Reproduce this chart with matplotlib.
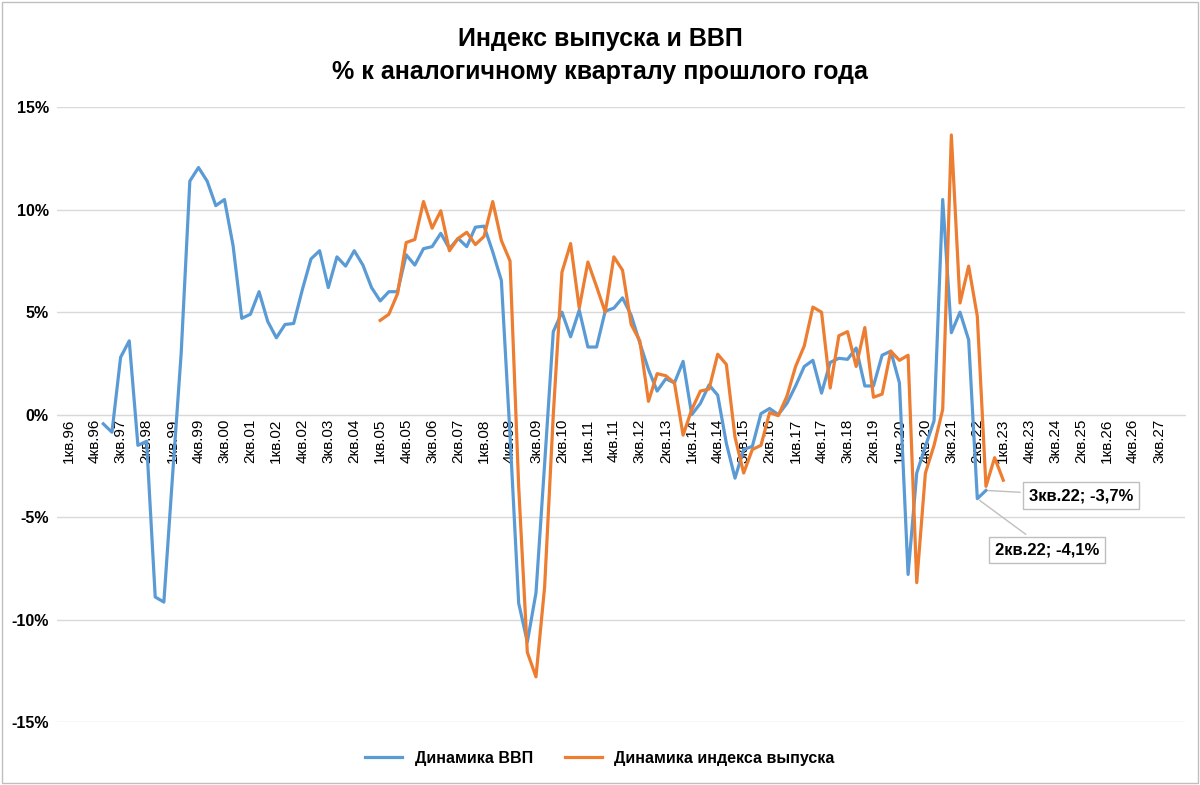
import matplotlib
matplotlib.use("Agg")
import matplotlib.pyplot as plt
import numpy as np

plt.rcParams["font.family"] = "Liberation Sans"

years = list(range(1996, 2028))
quarters = [f"{q}кв.{y % 100:02d}" for y in years for q in range(1, 5)]
tick_labels = quarters[::3]

gdp_start = 4  # 1кв.97
gdp = [-0.45, -0.86, 2.8, 3.6, -1.5, -1.3, -8.9, -9.15, -3.0, 3.0, 11.4, 12.06,
       11.4, 10.2, 10.5, 8.24, 4.7, 4.9, 6.0, 4.55, 3.75, 4.4, 4.45, 6.1,
       7.6, 8.0, 6.2, 7.7, 7.25, 8.0, 7.3, 6.2, 5.55, 6.0, 6.0, 7.8,
       7.3, 8.1, 8.2, 8.85, 8.1, 8.6, 8.2, 9.15, 9.2, 7.95, 6.55, -1.0,
       -9.2, -11.1, -8.7, -2.4, 4.05, 5.0, 3.8, 5.1, 3.3, 3.3, 5.05, 5.2,
       5.7, 4.85, 3.5, 2.2, 1.15, 1.75, 1.55, 2.6, 0.0, 0.55, 1.45, 0.95,
       -1.4, -3.1, -1.7, -1.55, 0.05, 0.3, 0.0, 0.55, 1.4, 2.35, 2.65, 1.05,
       2.55, 2.75, 2.7, 3.25, 1.4, 1.4, 2.9, 3.1, 1.55, -7.8, -2.85, -1.55,
       -0.3, 10.5, 4.0, 5.0, 3.65, -4.1, -3.7]

out_start = 36  # 1кв.05
output = [4.6, 4.9, 5.9, 8.4, 8.55, 10.4, 9.1, 9.95, 8.0, 8.6, 8.9, 8.3,
          8.7, 10.4, 8.5, 7.5, -3.5, -11.6, -12.8, -8.4, 0.0, 6.95, 8.35, 5.2,
          7.45, 6.25, 5.0, 7.7, 7.05, 4.4, 3.6, 0.65, 2.0, 1.9, 1.55, -1.0,
          0.25, 1.15, 1.25, 2.95, 2.45, -1.1, -2.85, -1.7, -1.5, 0.1, -0.05, 0.9,
          2.35, 3.35, 5.25, 5.0, 1.3, 3.85, 4.05, 2.35, 4.25, 0.85, 1.0, 3.1,
          2.65, 2.9, -8.2, -2.85, -1.5, 0.25, 13.65, 5.45, 7.25, 4.8, -3.5, -2.1,
          -3.2]

# fill in a few mid values in output that were read from blue-near areas
blue = "#5B9BD5"
orange = "#ED7D31"

fig = plt.figure(figsize=(12, 7.85), dpi=100)
ax = fig.add_axes([0.0475, 0.0803, 0.94, 0.783])

xg = np.arange(gdp_start, gdp_start + len(gdp))
xo = np.arange(out_start, out_start + len(output))
ax.plot(xg, gdp, color=blue, lw=2.3, label="Динамика ВВП", zorder=3, solid_joinstyle="round")
ax.plot(xo, output, color=orange, lw=2.3, label="Динамика индекса выпуска", zorder=4, solid_joinstyle="round")

ax.set_ylim(-15, 15)
ax.set_xlim(-1.35, 129)
ax.set_yticks([-15, -10, -5, 0, 5, 10, 15])
ax.set_yticklabels([f"{v}%" for v in [-15, -10, -5, 0, 5, 10, 15]], fontsize=11.5, fontweight="bold")
ax.yaxis.grid(True, color="#d9d9d9", lw=1)
ax.set_axisbelow(True)
for s in ["left", "right", "top"]:
    ax.spines[s].set_visible(False)
ax.spines["bottom"].set_position(("data", 0))
ax.spines["bottom"].set_color("#d9d9d9")
ax.tick_params(axis="y", length=0, pad=6)
ax.set_xticks(np.arange(0, len(quarters), 3))
ax.set_xticklabels(tick_labels, rotation=90, fontsize=11)
ax.tick_params(axis="x", length=0, pad=3)

# annotations
i3 = gdp_start + len(gdp) - 1
i2 = i3 - 1
bbox = dict(boxstyle="square,pad=0.35", fc="white", ec="#bfbfbf", lw=1)
ax.annotate("3кв.22; -3,7%", xy=(i3, gdp[-1]), xytext=(i3 + 5, -3.95), fontsize=12,
            fontweight="bold", bbox=bbox, ha="left", va="center",
            arrowprops=dict(arrowstyle="-", color="#bfbfbf", lw=1))
ax.annotate("2кв.22; -4,1%", xy=(i2, gdp[-2]), xytext=(i2 + 2, -6.6), fontsize=12,
            fontweight="bold", bbox=bbox, ha="left", va="center",
            arrowprops=dict(arrowstyle="-", color="#bfbfbf", lw=1))

fig.text(0.5, 0.965, "Индекс выпуска и ВВП\n% к аналогичному кварталу прошлого года",
         ha="center", va="top", fontsize=18, fontweight="bold", linespacing=1.45)

leg = fig.legend(loc="center", bbox_to_anchor=(0.5, 0.034), ncol=2, frameon=False,
                 prop={"size": 11.5, "weight": "bold"}, handlelength=2.3, columnspacing=2)

fig.patches.append(plt.Rectangle((0.002, 0.002), 0.996, 0.996, transform=fig.transFigure,
                                 fill=False, ec="#bfbfbf", lw=1))
fig.savefig("out.png", dpi=100)
